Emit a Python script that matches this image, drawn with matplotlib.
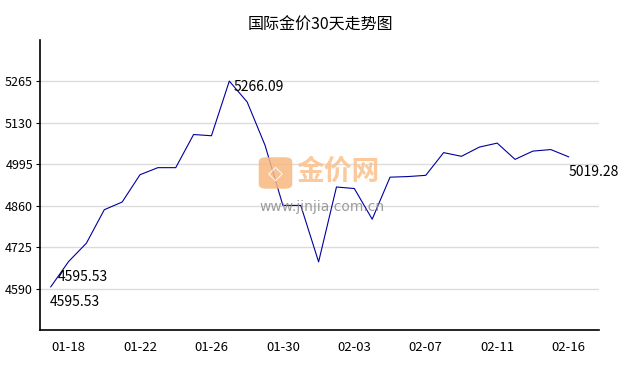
import matplotlib
matplotlib.use("Agg")
import matplotlib.pyplot as plt
from matplotlib.patches import FancyBboxPatch

plt.rcParams['font.family'] = ['Noto Sans CJK SC', 'DejaVu Sans']

title = "国际金价30天走势图"
dates = ["01-17", "01-18", "01-19", "01-20", "01-21", "01-22", "01-23", "01-24",
         "01-25", "01-26", "01-27", "01-28", "01-29", "01-30", "01-31", "02-01",
         "02-02", "02-03", "02-04", "02-05", "02-06", "02-07", "02-08", "02-09",
         "02-10", "02-11", "02-12", "02-13", "02-14", "02-16"]
prices = [4595.53, 4678, 4738, 4847, 4872, 4961, 4984, 4984, 5092, 5088,
          5266.09, 5198, 5057, 4861, 4861, 4677, 4921, 4916, 4816, 4953,
          4955, 4959, 5033, 5021, 5051, 5064, 5011, 5038, 5043, 5019.28]
y_ticks = [4590, 4725, 4860, 4995, 5130, 5265]
x_tick_idx = [1, 5, 9, 13, 17, 21, 25, 29]

fig = plt.figure(figsize=(6.38, 3.70), dpi=100)
ax = fig.add_axes([40/638, 40/370, 559/638, 290/370])

x = list(range(len(prices)))
ax.plot(x, prices, color="#0000a0", lw=0.8, zorder=3)

ax.set_xlim(-0.6, 30.7)
ax.set_ylim(4455, 5400)
ax.set_yticks(y_ticks)
ax.set_yticklabels([str(v) for v in y_ticks], fontsize=9)
ax.set_xticks(x_tick_idx)
ax.set_xticklabels([dates[i].replace("-", " - ").replace(" - ", "-") for i in x_tick_idx], fontsize=9.5)
ax.tick_params(axis='x', length=0, pad=8)
ax.tick_params(axis='y', length=3, width=0.8, pad=2)
ax.yaxis.grid(True, color="#dcdcdc", lw=1)
ax.set_axisbelow(True)
for s in ["top", "right"]:
    ax.spines[s].set_visible(False)
for s in ["left", "bottom"]:
    ax.spines[s].set_color("black")
    ax.spines[s].set_linewidth(1.2)

fig.text(320/638, 1 - 25/370, title, ha="center", va="center", fontsize=11.5)

# annotations
imax = prices.index(max(prices))
imin = prices.index(min(prices))
ax.annotate(f"{prices[0]:.2f}", (0, prices[0]), xytext=(5, 7), textcoords="offset points",
            fontsize=10, ha="left", va="center")
ax.annotate(f"{prices[imin]:.2f}", (imin, prices[imin]), xytext=(-1, -11), textcoords="offset points",
            fontsize=10, ha="left", va="center")
ax.annotate(f"{prices[imax]:.2f}", (imax, prices[imax]), xytext=(3, -4), textcoords="offset points",
            fontsize=10, ha="left", va="center")
ax.annotate(f"{prices[-1]:.2f}", (len(prices)-1, prices[-1]), xytext=(0, -11), textcoords="offset points",
            fontsize=10, ha="left", va="center")

# watermark
icon = FancyBboxPatch((260/638, 1 - 188/370), 31/638, 30/370, transform=fig.transFigure,
                      boxstyle="round,pad=0.002,rounding_size=0.012", fc="#f9b880", ec="none",
                      alpha=0.85, zorder=1)
fig.patches.append(icon)
fig.text(275.5/638, 1 - 173/370, "◇", ha="center", va="center", fontsize=14,
         color="white", family=["DejaVu Sans"], alpha=0.9)
fig.text(296/638, 1 - 172/370, "金价网", ha="left", va="center", fontsize=20,
         color="#fbc08a", fontweight="bold", alpha=0.85)
fig.text(259/638, 1 - 207/370, "www.jinjia.com.cn", ha="left", va="center", fontsize=10,
         color="#8c8c8c", family=["DejaVu Sans"], alpha=0.85)

fig.savefig("out.png", dpi=100)
